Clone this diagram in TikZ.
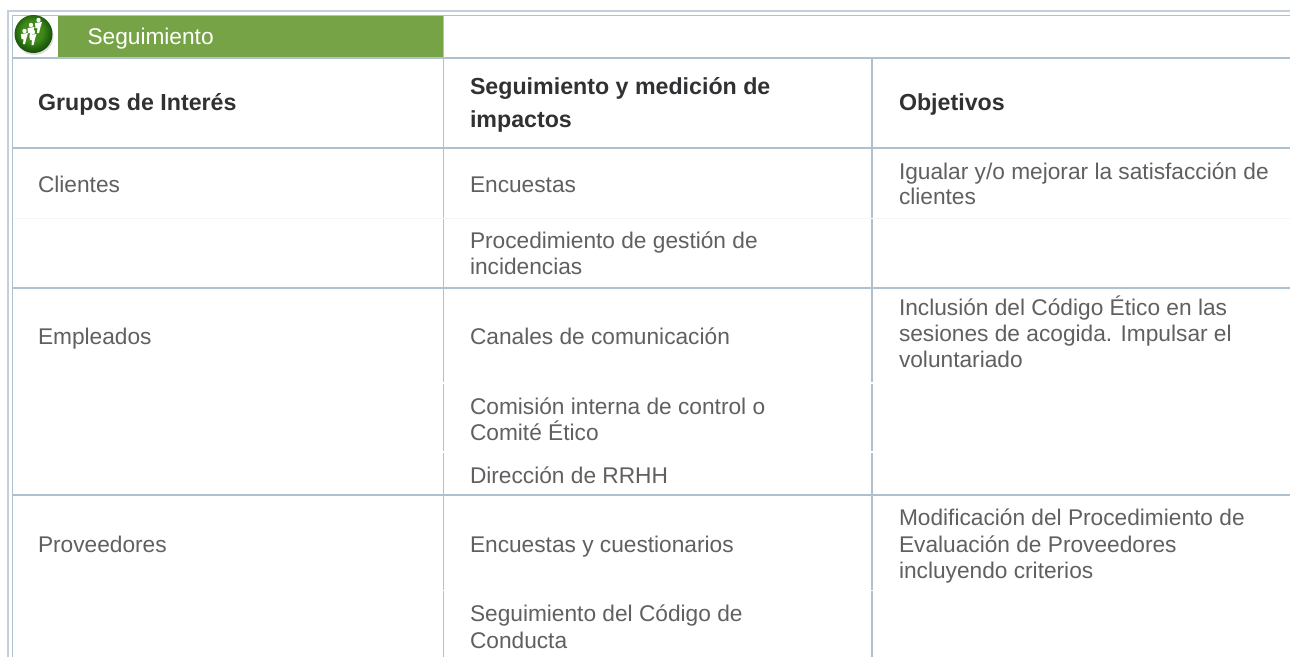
\documentclass[tikz,border=0pt]{standalone}
\usepackage{fontspec}
\setmainfont{Liberation Sans}
\definecolor{gridc}{HTML}{AFC0CF}
\definecolor{framec}{HTML}{C3CFDA}
\definecolor{faintc}{HTML}{F3F5F7}
\definecolor{txtc}{HTML}{5F6062}
\definecolor{headc}{HTML}{303133}
\definecolor{bandc}{HTML}{75A345}
\definecolor{ballmid}{HTML}{3F8A1A}
\definecolor{balldark}{HTML}{0F4A06}
\tikzset{
  cell/.style={anchor=base west,inner sep=0pt,outer sep=0pt,text=txtc,font=\fontsize{22.7}{22.7}\selectfont},
  headcell/.style={cell,text=headc,font=\fontsize{23.2}{23.2}\selectfont\bfseries},
  grid/.style={draw=gridc,line width=1.2pt},
  frameline/.style={draw=framec,line width=2pt},
  faint/.style={draw=faintc,line width=1.2pt},
  gap/.style={draw=white,line width=1.6pt},
  runner/.style={fill=white,draw=none},
}
\pgfdeclareradialshading{ballsh}{\pgfpoint{-3bp}{5bp}}{color(0bp)=(ballmid); color(14bp)=(ballmid); color(28bp)=(balldark); color(50bp)=(balldark!70!black)}
\begin{document}
\begin{tikzpicture}[x=1pt,y=-1pt]
\useasboundingbox[fill=white] (0,0) rectangle (1290,657);
% outer frame
\draw[frameline] (8,657) -- (8,11) -- (1290,11);
\draw[grid] (12.5,657) -- (12.5,15.5) -- (1290,15.5);
% green band
\fill[bandc] (58,16) rectangle (443,57.5);
% icon
\fill[black!30,opacity=.45] (34.5,36) circle (19);
\shade[shading=ballsh] (33.5,34) circle (19);
\foreach \px/\py in {38.5/20,31/25,24.5/31,33/32}{
  \fill[runner] (\px,\py) circle (2.2);
  \fill[runner] (\px-3.5,\py+3) -- (\px+3.5,\py+2) -- (\px+2,\py+7) -- (\px+.5,\py+13) -- (\px-1.5,\py+13) -- (\px-1,\py+8) -- (\px-3,\py+8) -- cycle;
}
% horizontal rules
\draw[grid] (12.5,58) -- (1290,58);
\draw[grid] (12.5,148) -- (1290,148);
\draw[grid] (12.5,288) -- (1290,288);
\draw[grid] (12.5,495) -- (1290,495);
\draw[faint] (13.5,218.5) -- (1290,218.5);
% vertical rules
\draw[grid] (443.5,15.5) -- (443.5,657);
\draw[grid] (872,58) -- (872,657);
% breaks in the vertical rules
\foreach \yb in {218.5,383,452,590.5}{
  \draw[gap] (442,\yb) -- (445,\yb);
  \draw[gap] (870.5,\yb) -- (873.5,\yb);
}
% text
\node[cell,text=white] (t0) at (87.5,44.5) {Seguimiento};
\node[headcell] (h1) at (38,110.5) {Grupos de Interés};
\node[headcell] (h2a) at (470,94) {Seguimiento y medición de};
\node[headcell] (h2b) at (470,127) {impactos};
\node[headcell] (h3) at (899,110.5) {Objetivos};
\node[cell] (a1) at (38,192) {Clientes};
\node[cell] (b1) at (470,192) {Encuestas};
\node[cell] (c1a) at (899,179) {Igualar y/o mejorar la satisfacción de};
\node[cell] (c1b) at (899,204.5) {clientes};
\node[cell] (b2a) at (470,248) {Procedimiento de gestión de};
\node[cell] (b2b) at (470,274) {incidencias};
\node[cell] (a2) at (38,344) {Empleados};
\node[cell] (b3) at (470,344) {Canales de comunicación};
\node[cell] (c2a) at (899,315) {Inclusión del Código Ético en las};
\node[cell] (c2b) at (899,341) {sesiones de acogida. Impulsar el};
\node[cell] (c2c) at (899,367) {voluntariado};
\node[cell] (b4a) at (470,414) {Comisión interna de control o};
\node[cell] (b4b) at (470,440) {Comité Ético};
\node[cell] (b5) at (470,483) {Dirección de RRHH};
\node[cell] (a3) at (38,552) {Proveedores};
\node[cell] (b6) at (470,552) {Encuestas y cuestionarios};
\node[cell] (c3a) at (899,525) {Modificación del Procedimiento de};
\node[cell] (c3b) at (899,552) {Evaluación de Proveedores};
\node[cell] (c3c) at (899,578) {incluyendo criterios};
\node[cell] (b7a) at (470,621) {Seguimiento del Código de};
\node[cell] (b7b) at (470,648) {Conducta};
\end{tikzpicture}
\end{document}
